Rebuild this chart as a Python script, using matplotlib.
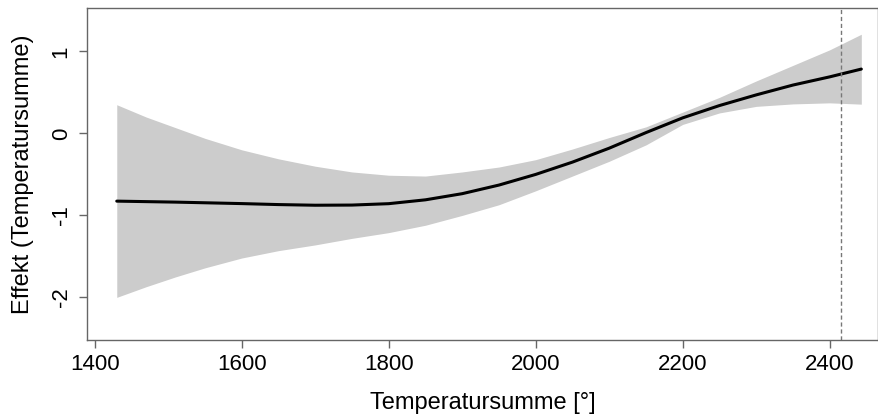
import matplotlib
matplotlib.use("Agg")
import matplotlib.pyplot as plt

# data
temp = [1430, 1470, 1510, 1550, 1600, 1650, 1700, 1750, 1800, 1850, 1900,
        1950, 2000, 2050, 2100, 2150, 2200, 2250, 2300, 2350, 2400, 2443]
effect = [-0.826, -0.832, -0.838, -0.846, -0.856, -0.868, -0.876, -0.874, -0.857,
          -0.81, -0.735, -0.63, -0.50, -0.35, -0.18, 0.01, 0.19, 0.34, 0.47,
          0.59, 0.69, 0.785]
upper = [0.35, 0.20, 0.07, -0.06, -0.20, -0.31, -0.40, -0.47, -0.51, -0.52,
         -0.47, -0.41, -0.32, -0.19, -0.05, 0.08, 0.26, 0.44, 0.64, 0.83,
         1.02, 1.21]
lower = [-2.0, -1.87, -1.75, -1.64, -1.52, -1.43, -1.36, -1.28, -1.21, -1.12,
         -1.00, -0.87, -0.70, -0.52, -0.34, -0.14, 0.11, 0.25, 0.33, 0.36,
         0.373, 0.357]
vline_x = 2415
xticks = [1400, 1600, 1800, 2000, 2200, 2400]
yticks = [-2, -1, 0, 1]

plt.rcParams['font.family'] = ['Liberation Sans', 'DejaVu Sans']

fig = plt.figure(figsize=(8.79, 4.16), dpi=100)
ax = fig.add_axes([87/879, 1-340/416, (878-87)/879, (340-8)/416])

ax.fill_between(temp, lower, upper, color='#CCCCCC', linewidth=0)
ax.plot(temp, effect, color='black', linewidth=2.2, solid_capstyle='round',
        solid_joinstyle='round')
ax.axvline(vline_x, color='#777777', linestyle=(0, (3, 2)), linewidth=1.0)

ax.set_xlim(1389.5, 2465.7)
ax.set_ylim(-2.52, 1.53)
ax.set_xticks(xticks)
ax.set_yticks(yticks)
ax.set_xticklabels([str(t) for t in xticks], fontsize=16)
ax.set_yticklabels([str(t) for t in yticks], fontsize=16, rotation=90, va='center')

for s in ax.spines.values():
    s.set_color('#666666')
    s.set_linewidth(1.0)
ax.tick_params(axis='both', direction='out', length=6, width=1.0, color='#666666', labelcolor='black')
ax.tick_params(axis='x', pad=4)
ax.tick_params(axis='y', pad=5)

ax.set_xlabel('Temperatursumme [°]', fontsize=17, labelpad=12)
ax.set_ylabel('Effekt (Temperatursumme)', fontsize=17, labelpad=12)

fig.savefig('out.png', dpi=100)
